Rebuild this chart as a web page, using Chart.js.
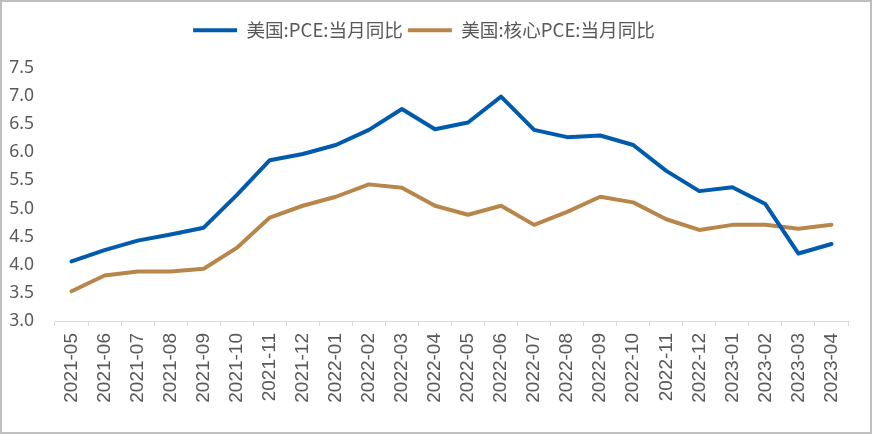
<!DOCTYPE html>
<html>
<head>
<meta charset="utf-8">
<script src="https://cdn.jsdelivr.net/npm/chart.js@4/dist/chart.umd.min.js"></script>
<style>
  html, body { margin: 0; padding: 0; background: #fff; }
  #wrap { position: relative; width: 872px; height: 434px; }
  #c { position: absolute; left: 0; top: 0; }
  #frame { position: absolute; left: 0; top: 0; width: 872px; height: 434px; box-sizing: border-box; border: 2px solid #bfbfbf; pointer-events: none; }
</style>
</head>
<body>
<div id="wrap">
  <canvas id="c" width="872" height="434"></canvas>
  <div id="frame"></div>
</div>
<script>
const categories = ["2021-05","2021-06","2021-07","2021-08","2021-09","2021-10","2021-11","2021-12","2022-01","2022-02","2022-03","2022-04","2022-05","2022-06","2022-07","2022-08","2022-09","2022-10","2022-11","2022-12","2023-01","2023-02","2023-03","2023-04"];
const seriesNames = ["美国:PCE:当月同比", "美国:核心PCE:当月同比"];
const pce = [4.06,4.26,4.43,4.54,4.66,5.24,5.86,5.97,6.13,6.40,6.77,6.41,6.53,6.99,6.40,6.27,6.30,6.13,5.67,5.31,5.38,5.08,4.20,4.37];
const corePce = [3.53,3.81,3.88,3.88,3.93,4.30,4.84,5.05,5.21,5.43,5.37,5.05,4.89,5.05,4.71,4.94,5.21,5.11,4.81,4.62,4.71,4.71,4.64,4.71];
const yTicks = [3.0,3.5,4.0,4.5,5.0,5.5,6.0,6.5,7.0,7.5];

const legendFix = {
  id: 'legendFix',
  afterInit(chart) {
    const lg = chart.legend;
    if (!lg) return;
    const orig = lg.fit.bind(lg);
    lg.fit = function () { orig(); this.height = 52; };
  }
};

new Chart(document.getElementById('c'), {
  type: 'line',
  data: {
    labels: categories,
    datasets: [
      { label: seriesNames[0], data: pce, borderColor: '#005BAC', backgroundColor: '#005BAC', borderWidth: 4, pointRadius: 0, tension: 0, borderJoinStyle: 'round', borderCapStyle: 'round' },
      { label: seriesNames[1], data: corePce, borderColor: '#B8864B', backgroundColor: '#B8864B', borderWidth: 4, pointRadius: 0, tension: 0, borderJoinStyle: 'round', borderCapStyle: 'round' }
    ]
  },
  options: {
    responsive: false,
    animation: false,
    layout: { padding: { top: 16, right: 24, bottom: 0, left: 0 } },
    plugins: {
      tooltip: { enabled: false },
      legend: {
        position: 'top',
        align: 'center',
        labels: {
          usePointStyle: true,
          pointStyle: 'line',
          pointStyleWidth: 44,
          padding: 5,
          color: '#595959',
          font: { family: '"Noto Sans CJK SC", "Noto Sans", sans-serif', size: 18.6 },
          generateLabels(chart) {
            return chart.data.datasets.map((ds, i) => ({
              text: ds.label,
              fillStyle: ds.borderColor,
              strokeStyle: ds.borderColor,
              lineWidth: 4,
              pointStyle: 'line',
              hidden: false,
              datasetIndex: i,
              fontColor: '#595959'
            }));
          }
        }
      }
    },
    scales: {
      x: {
        type: 'category',
        offset: true,
        grid: { display: true, drawOnChartArea: false, drawTicks: true, tickLength: 5, offset: true, color: '#d9d9d9', lineWidth: 1 },
        border: { display: true, color: '#d9d9d9', width: 1 },
        ticks: {
          autoSkip: false, minRotation: 90, maxRotation: 90, padding: 7,
          color: '#595959',
          font: { family: '"Liberation Sans", Arial, sans-serif', size: 19 }
        },
        afterFit(scale) { scale.height = 113; }
      },
      y: {
        min: 3.0, max: 7.5,
        afterBuildTicks(scale) { scale.ticks = yTicks.map(v => ({ value: v })); },
        grid: { display: false },
        border: { display: false },
        ticks: {
          padding: 13,
          color: '#595959',
          font: { family: '"Noto Sans", "Open Sans", sans-serif', size: 17.5 },
          callback: v => Number(v).toFixed(1)
        },
        afterFit(scale) { scale.width = 55; }
      }
    }
  },
  plugins: [legendFix]
});
</script>
</body>
</html>
